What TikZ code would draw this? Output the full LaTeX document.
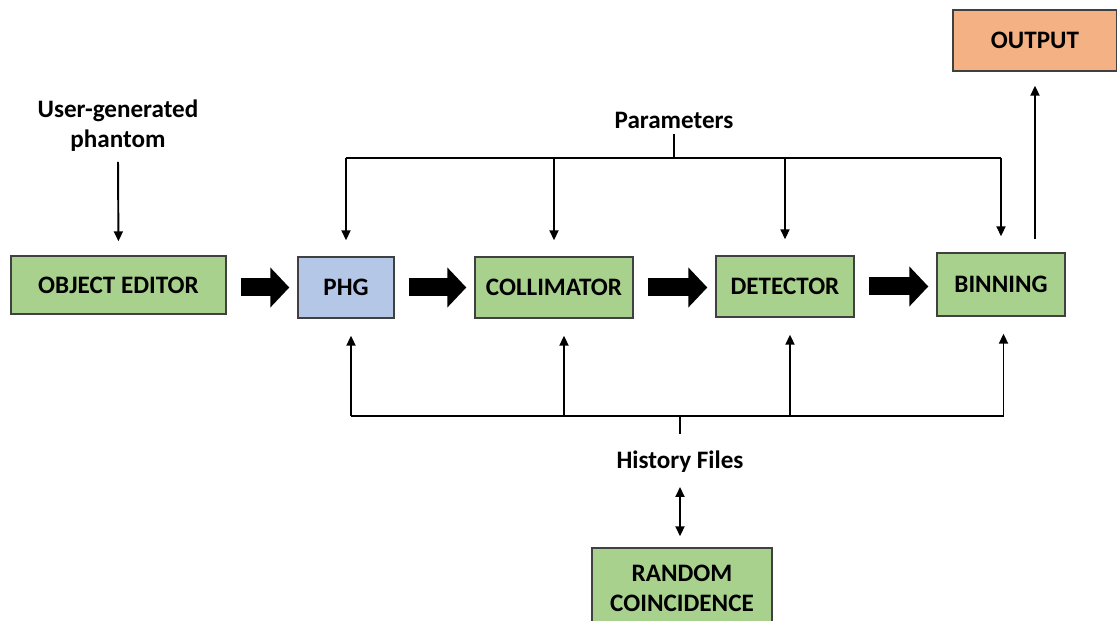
\documentclass[tikz,border=0pt]{standalone}
\usepackage{fontspec}
\setmainfont{Carlito}
\usetikzlibrary{arrows.meta,positioning}

\definecolor{stagegreen}{HTML}{A9D18E}
\definecolor{stageblue}{HTML}{B4C7E7}
\definecolor{stageorange}{HTML}{F4B183}

\begin{document}
\begin{tikzpicture}[font=\fontsize{14.3}{17}\selectfont\bfseries]
 \tikzset{
stage/.style = {rectangle, draw=black!75, line width=0.8pt, minimum height=1.22cm, align=center},
flow/.style = {line width=0.36cm, -{Triangle[length=0.38cm, width=0.78cm]}, shorten <=0.28cm, shorten >=0.16cm},
link/.style = {line width=1.1pt, -{Triangle[length=0.2cm, width=0.18cm]}},
bus/.style = {line width=1.1pt}}

    \useasboundingbox (0,0) rectangle (22.34,12.42);

    % processing chain
    \node [stage] (OE)[fill = stagegreen, minimum width = 4.3cm, minimum height = 1.16cm] at (2.37,6.72) {OBJECT EDITOR};
    \node [stage] (PHG)[fill = stageblue, minimum width = 1.92cm] at (6.92,6.67) {PHG};
    \node [stage] (COLL)[fill = stagegreen, minimum width = 3.16cm] at (11.08,6.67) {COLLIMATOR};
    \node [stage] (DET)[fill = stagegreen, minimum width = 2.76cm] at (15.70,6.69) {DETECTOR};
    \node [stage] (BIN)[fill = stagegreen, minimum width = 2.56cm, minimum height = 1.26cm] at (20.02,6.73) {BINNING};
    \node [stage] (OUT)[fill = stageorange, minimum width = 3.28cm] at (20.70,11.61) {OUTPUT};
    \node [stage] (RC)[fill = stagegreen, minimum width = 3.6cm, minimum height = 1.6cm] at (13.64,0.66) {RANDOM\\COINCIDENCE};

    \draw [flow] (OE.east |- PHG.west) -- (PHG.west);
    \draw [flow] (PHG.east) -- (COLL.west);
    \draw [flow] (COLL.east) -- (DET.west |- COLL.east);
    \draw [flow] (DET.east) -- (BIN.west |- DET.east);

    % labels
    \node (phantom)[align=center] at (2.36,9.9) {User-generated\\phantom};
    \node (param) at (13.48,10.02) {Parameters};
    \node (hist) at (13.60,3.18) {History Files};
    \coordinate (ptop) at (13.48,9.26);
    \coordinate (hbot) at (13.60,4.10);

    \draw [link] (phantom.south) -- (OE.north) [shorten <=0.08cm, shorten >=0.28cm];

    % parameter bus
    \draw [bus] (param.south) -- (ptop);
    \draw [bus] (ptop -| PHG.north) -- (ptop -| BIN.north);
    \foreach \n in {PHG,COLL,DET,BIN}
      \draw [link, shorten >=0.32cm] (ptop -| \n.north) -- (\n.north);

    % history bus
    \draw [bus] (hist.north) -- (hbot) [shorten <=0.22cm];
    \draw [bus] ([xshift=1mm]hbot -| PHG.south) -- ([xshift=0.5mm]hbot -| BIN.south);
    \draw [link, shorten >=0.34cm] ([xshift=1mm]hbot -| PHG.south) -- ([xshift=1mm]PHG.south);
    \draw [link, shorten >=0.34cm] ([xshift=2mm]hbot -| COLL.south) -- ([xshift=2mm]COLL.south);
    \draw [link, shorten >=0.34cm] ([xshift=1mm]hbot -| DET.south) -- ([xshift=1mm]DET.south);
    \draw [link, shorten >=0.34cm] ([xshift=0.5mm]hbot -| BIN.south) -- ([xshift=0.5mm]BIN.south);

    \draw [link, {Triangle[length=0.2cm, width=0.18cm]}-{Triangle[length=0.2cm, width=0.18cm]}, shorten <=0.16cm, shorten >=0.22cm] (hist.south) -- (hist.south |- RC.north);

    % output
    \draw [link, shorten <=0.26cm, shorten >=0.28cm] (BIN.north -| OUT.south) -- (OUT.south);

  \end{tikzpicture}
\end{document}
